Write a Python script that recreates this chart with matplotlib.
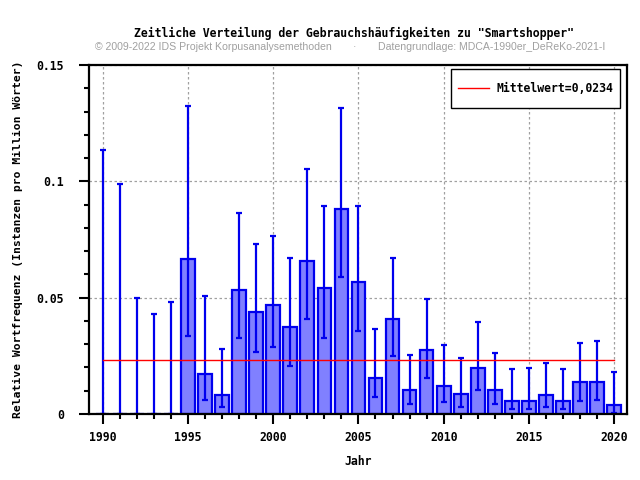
import numpy as np
import matplotlib
matplotlib.use("Agg")
import matplotlib.pyplot as plt
from matplotlib.ticker import MultipleLocator, FuncFormatter
from matplotlib.legend_handler import HandlerLine2D

# relative frequency per year, with lower / upper confidence bounds
jahre = list(range(1990, 2021))
werte = [0.0, 0.0, 0.0, 0.0, 0.0, 0.0665, 0.0174, 0.0080, 0.0533, 0.0439,
         0.0468, 0.0374, 0.0656, 0.0541, 0.0879, 0.0567, 0.0156, 0.0410,
         0.0102, 0.0276, 0.0120, 0.0085, 0.0199, 0.0105, 0.0058, 0.0058,
         0.0080, 0.0058, 0.0137, 0.0137, 0.0037]
unten = [0.0, 0.0, 0.0, 0.0, 0.0, 0.0336, 0.0062, 0.0028, 0.0327, 0.0268,
         0.0290, 0.0208, 0.0409, 0.0327, 0.0587, 0.0357, 0.0071, 0.0250,
         0.0045, 0.0156, 0.0050, 0.0032, 0.0105, 0.0045, 0.0020, 0.0020,
         0.0032, 0.0020, 0.0058, 0.0062, 0.0003]
oben = [0.1134, 0.0990, 0.0498, 0.0430, 0.0481, 0.1323, 0.0507, 0.0279,
        0.0866, 0.0729, 0.0763, 0.0669, 0.1054, 0.0896, 0.1315, 0.0896,
        0.0366, 0.0669, 0.0255, 0.0496, 0.0295, 0.0242, 0.0396, 0.0263,
        0.0195, 0.0199, 0.0221, 0.0195, 0.0306, 0.0315, 0.0182]
mittelwert = 0.0234

mono = "DejaVu Sans Mono"
blau = "#0000ee"


# legend line kept at text height even with a tall legend row
class MittelHandler(HandlerLine2D):
    def create_artists(self, legend, orig_handle, xdescent, ydescent, width, height, fontsize, trans):
        arts = super().create_artists(legend, orig_handle, xdescent, ydescent, width, height, fontsize, trans)
        for a in arts:
            a.set_ydata(np.full_like(np.asarray(a.get_xdata(), dtype=float), 0.33 * fontsize))
        return arts


fig = plt.figure(figsize=(6.4, 4.8), dpi=100)
ax = fig.add_axes([89/640, 1-414/480, (627-89)/640, (414-65)/480])

werte = np.array(werte)
yerr = np.array([werte - np.array(unten), np.array(oben) - werte])

ax.bar(jahre, werte, width=0.8, color="#8080ff", edgecolor=blau, linewidth=1.6, zorder=3)
ax.errorbar(jahre, werte, yerr=yerr, fmt="none", ecolor=blau, elinewidth=1.6,
            capsize=2.3, capthick=1.6, zorder=4)
linie, = ax.plot([jahre[0], jahre[-1]], [mittelwert, mittelwert], color="red", linewidth=1,
                 zorder=5, label="Mittelwert=" + ("%.4f" % mittelwert).replace(".", ","))

ax.set_xlim(1989.2, 2020.75)
ax.set_ylim(0, 0.15)

ax.xaxis.set_major_locator(MultipleLocator(5))
ax.xaxis.set_minor_locator(MultipleLocator(1))
ax.yaxis.set_major_locator(MultipleLocator(0.05))
ax.yaxis.set_minor_locator(MultipleLocator(0.01))
ax.yaxis.set_major_formatter(FuncFormatter(lambda v, p: ("%g" % round(v, 4))))

ax.tick_params(which="major", direction="out", length=7, width=1.5)
ax.tick_params(which="minor", direction="out", length=3.3, width=1.5)
for lab in ax.get_xticklabels() + ax.get_yticklabels():
    lab.set_fontfamily(mono)
    lab.set_fontweight("bold")
    lab.set_fontsize(8.3)
ax.tick_params(axis="x", pad=5)
ax.tick_params(axis="y", pad=11)

for s in ax.spines.values():
    s.set_linewidth(1.6)
    s.set_zorder(6)

ax.grid(True, which="major", color="#a0a0a0", linestyle=(0, (2, 2)), linewidth=0.9, zorder=0)

ax.set_xlabel("Jahr", fontfamily=mono, fontweight="bold", fontsize=8.3, labelpad=8)
ax.set_ylabel("Relative Wortfrequenz (Instanzen pro Million Wörter)", fontfamily=mono,
              fontweight="bold", fontsize=8.2, labelpad=10)

leg = ax.legend(handler_map={linie: MittelHandler()}, loc="upper right",
                prop={"family": mono, "weight": "bold", "size": 8.3},
                fancybox=False, edgecolor="black", framealpha=1, handlelength=2.7,
                handletextpad=0.6, handleheight=3.0, borderpad=0.6, borderaxespad=0,
                bbox_to_anchor=(1-7/538, 1-4/349))
leg.get_frame().set_linewidth(1)

fig.text(354/640, 1-33/480, 'Zeitliche Verteilung der Gebrauchshäufigkeiten zu "Smartshopper"',
         ha="center", va="center", fontfamily=mono, fontweight="bold", fontsize=8.3)
fig.text(95/640, 1-47/480, "© 2009-2022 IDS Projekt Korpusanalysemethoden",
         ha="left", va="center", fontfamily="Liberation Sans", fontsize=7.6, color="#a0a0a0")
fig.text(355/640, 1-47/480, "·", ha="center", va="center",
         fontfamily="Liberation Sans", fontsize=7.6, color="#a0a0a0")
fig.text(378/640, 1-47/480, "Datengrundlage: MDCA-1990er_DeReKo-2021-I",
         ha="left", va="center", fontfamily="Liberation Sans", fontsize=7.6, color="#a0a0a0")

fig.savefig("out.png", dpi=100)
